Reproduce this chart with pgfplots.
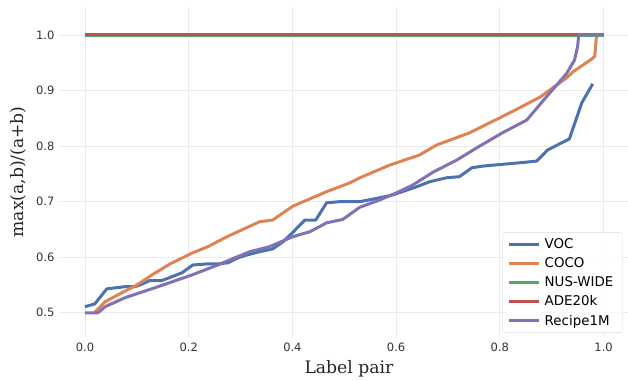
\documentclass[border=0pt]{standalone}
\usepackage{pgfplots}
\pgfplotsset{compat=1.18}
\usepackage{fontspec}
\setmainfont{DejaVu Sans}
\newfontfamily\labelfont{DejaVu Serif}
\definecolor{sbblue}{HTML}{4C72B0}
\definecolor{sborange}{HTML}{DD8452}
\definecolor{sbgreen}{HTML}{55A868}
\definecolor{sbred}{HTML}{C44E52}
\definecolor{sbpurple}{HTML}{8172B3}
\definecolor{gridc}{HTML}{EBEBEB}
\definecolor{tickc}{HTML}{333333}
\begin{document}
\begin{tikzpicture}
\begin{axis}[
  scale only axis,
  width=569bp, height=330bp,
  xmin=-0.0501, xmax=1.0463,
  ymin=0.4568, ymax=1.0504,
  xtick={0,0.2,0.4,0.6,0.8,1.0},
  ytick={0.5,0.6,0.7,0.8,0.9,1.0},
  grid=major,
  grid style={gridc, line width=0.8bp},
  axis line style={draw=none},
  tick style={draw=none},
  /pgf/number format/assume math mode=true,
  /pgf/number format/.cd, fixed, fixed zerofill, precision=1,
  /pgfplots/.cd,
  ticklabel style={font=\fontsize{11.5bp}{13bp}\selectfont, text=tickc},
  xticklabel style={yshift=-3bp},
  yticklabel style={xshift=-1bp},
  xlabel={Label pair},
  ylabel={max(a,b)/(a+b)},
  label style={font=\labelfont\fontsize{17.2bp}{19bp}\selectfont, text=black!85},
  xlabel style={at={(axis description cs:0.51,-0.098)}, anchor=center},
  ylabel style={at={(axis description cs:-0.071,0.5)}, anchor=center},
  legend cell align=left,
  legend style={at={(rel axis cs:0.991,0.012)}, anchor=south east,
    font=\fontsize{13.4bp}{15bp}\selectfont, draw=black!15, rounded corners=2.5bp,
    fill=white, fill opacity=0.85, text opacity=1, inner xsep=5bp, inner ysep=6bp,
    row sep=7.6bp, nodes={inner xsep=4bp, inner ysep=0bp}},
  legend image code/.code={\draw[#1, line width=3bp] (0bp,0bp) -- (30bp,0bp);},
]
\addplot[sbblue, line width=3bp, line join=round] coordinates {
(0,0.511)(0.019,0.516)(0.042,0.543)(0.077,0.547)(0.096,0.547)(0.106,0.550)(0.125,0.558)(0.148,0.558)(0.168,0.565)(0.187,0.572)(0.208,0.586)(0.235,0.588)(0.256,0.588)(0.276,0.590)(0.295,0.599)(0.312,0.604)(0.337,0.610)(0.362,0.615)(0.382,0.628)(0.400,0.644)(0.424,0.667)(0.445,0.667)(0.466,0.698)(0.491,0.700)(0.530,0.700)(0.563,0.706)(0.593,0.712)(0.640,0.727)(0.665,0.736)(0.697,0.743)(0.722,0.745)(0.746,0.761)(0.767,0.764)(0.838,0.770)(0.871,0.773)(0.892,0.793)(0.934,0.813)(0.958,0.878)(0.979,0.912)
};
\addlegendentry{VOC}
\addplot[sborange, line width=3bp, line join=round] coordinates {
(0.018,0.5)(0.039,0.52)(0.071,0.536)(0.100,0.550)(0.129,0.568)(0.164,0.588)(0.208,0.608)(0.237,0.619)(0.274,0.637)(0.337,0.664)(0.362,0.667)(0.401,0.692)(0.466,0.718)(0.511,0.734)(0.530,0.743)(0.588,0.766)(0.645,0.784)(0.678,0.802)(0.742,0.824)(0.761,0.833)(0.80,0.851)(0.838,0.869)(0.877,0.888)(0.929,0.923)(0.940,0.933)(0.979,0.958)(0.983,0.962)(0.986,0.995)(0.988,1.0)(1.0,1.0)
};
\addlegendentry{COCO}
\addplot[sbgreen, line width=3bp] coordinates {(0,0.999)(1,0.999)};
\addlegendentry{NUS-WIDE}
\addplot[sbred, line width=3bp] coordinates {(0,1.001)(1,1.001)};
\addlegendentry{ADE20k}
\addplot[sbpurple, line width=3bp, line join=round] coordinates {
(0,0.5)(0.025,0.5)(0.039,0.511)(0.077,0.527)(0.141,0.547)(0.206,0.568)(0.256,0.586)(0.289,0.599)(0.318,0.610)(0.356,0.619)(0.401,0.637)(0.434,0.646)(0.466,0.662)(0.497,0.668)(0.530,0.690)(0.568,0.703)(0.601,0.716)(0.632,0.730)(0.671,0.753)(0.717,0.775)(0.761,0.800)(0.805,0.824)(0.852,0.847)(0.890,0.889)(0.929,0.931)(0.944,0.955)(0.950,0.980)(0.952,1.0)(1.0,1.0)
};
\addlegendentry{Recipe1M}
\end{axis}
\path[use as bounding box] (-59bp,-40bp) rectangle (569bp,337bp);
\end{tikzpicture}
\end{document}
